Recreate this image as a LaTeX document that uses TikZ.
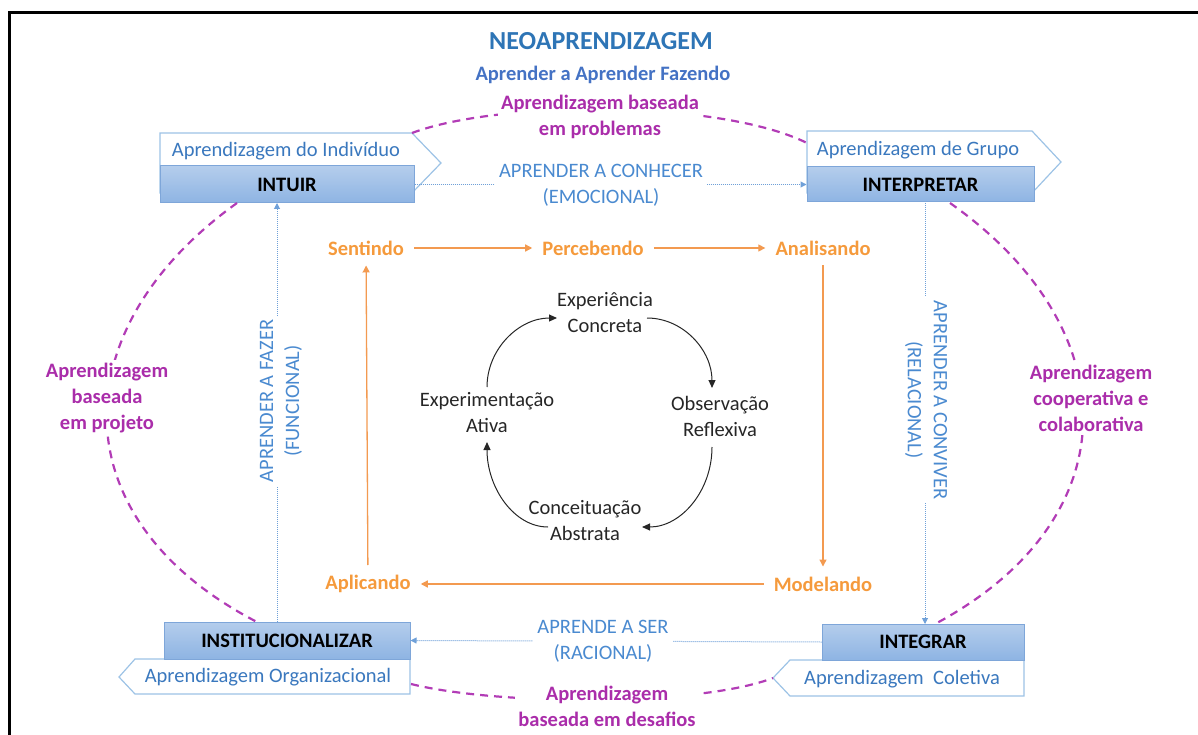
\documentclass[tikz,border=0pt]{standalone}
\usepackage{fontspec}
\setmainfont{Carlito}
\usetikzlibrary{arrows.meta,calc}
\definecolor{ttl}{HTML}{2E75B6}
\definecolor{sub}{HTML}{4472C4}
\definecolor{mag}{HTML}{AA2DAA}
\definecolor{magl}{HTML}{B23CB6}
\definecolor{org}{HTML}{F59A3C}
\definecolor{orgl}{HTML}{F39A50}
\definecolor{cat}{HTML}{4A8AD0}
\definecolor{lbltxt}{HTML}{3A78BE}
\definecolor{lblline}{HTML}{9DC3E6}
\definecolor{boxtop}{HTML}{B4CDEC}
\definecolor{boxbot}{HTML}{8EB4E3}
\definecolor{boxdraw}{HTML}{7EA6D9}
\definecolor{dotb}{HTML}{6FA0D8}
\newcommand\fsz{\fontsize{20.5}{26}\selectfont}
\tikzset{
  every node/.style={font=\fsz, inner sep=0pt, align=center},
  mainbox/.style={draw=boxdraw, line width=1pt, top color=boxtop, bottom color=boxbot, font=\fsz\bfseries, text=black},
  lblshape/.style={draw=lblline, line width=1.2pt, fill=white},
  lbl/.style={text=lbltxt},
  cattxt/.style={text=cat},
  magtxt/.style={text=mag, font=\fsz\bfseries},
  orgtxt/.style={text=org, font=\fsz\bfseries, inner sep=10pt},
  kolb/.style={text=black!85},
  magdash/.style={draw=magl, line width=2.2pt, dash pattern=on 8pt off 6pt},
  dotline/.style={draw=dotb, line width=1pt, densely dotted},
  dotarrow/.style={dotline, -{Triangle[width=6pt,length=6pt]}},
  orgarrow/.style={draw=orgl, line width=1.3pt, -{Triangle[width=7pt,length=7pt]}},
  kolbarrow/.style={draw=black!85, line width=1pt, -{Triangle[width=7pt,length=8pt]}},
}
\begin{document}
\begin{tikzpicture}[x=1pt,y=-1pt]
\useasboundingbox (0,0) rectangle (1198,735);
\draw[line width=3pt] (9,735) -- (9,13) -- (1198,13);

% titles
\node[text=ttl, font=\fontsize{26}{30}\selectfont\bfseries] (title) at (601,41) {NEOAPRENDIZAGEM};
\node[text=sub, font=\fsz\bfseries] (subtitle) at (603,75) {Aprender a Aprender Fazendo};

% label pentagons (behind boxes)
\draw[lblshape] (160,133) -- (412,133) -- (441,163) -- (412,193) -- (160,193) -- cycle;
\draw[lblshape] (807,131) -- (1032,131) -- (1061,162) -- (1032,193) -- (807,193) -- cycle;
\draw[lblshape] (410,659) -- (135,659) -- (119,677) -- (135,694) -- (410,694) -- cycle;
\draw[lblshape] (1024,660) -- (790,660) -- (773,678) -- (790,696) -- (1024,696) -- cycle;

\node[lbl] (l1) at (286,151) {Aprendizagem do Indivíduo};
\node[lbl] (l2) at (918,150) {Aprendizagem de Grupo};
\node[lbl] (l3) at (268,677) {Aprendizagem Organizacional};
\node[lbl] (l4) at (902,679) {Aprendizagem\ \ Coletiva};

% main boxes
\node[mainbox, minimum width=254pt, minimum height=37pt] (intuir) at (287,184.5) {INTUIR};
\node[mainbox, minimum width=227pt, minimum height=35pt] (interp) at (920.5,184.5) {INTERPRETAR};
\node[mainbox, minimum width=246pt, minimum height=37pt] (inst) at (287,640.5) {INSTITUCIONALIZAR};
\node[mainbox, minimum width=202pt, minimum height=36pt] (integ) at (923,642) {INTEGRAR};

% magenta dashed curves
\coordinate (tl) at (412,133);
\coordinate (tr) at (807,143);
\draw[magdash] (tl) .. controls (500,100) and (720,100) .. (tr);
\coordinate (lt) at (237,203);
\coordinate (lb) at (257,622);
\draw[magdash] (lt) .. controls (60,330) and (60,520) .. (lb);
\coordinate (rt) at (950,203);
\coordinate (rb) at (935,624);
\draw[magdash] (rt) .. controls (1130,330) and (1130,520) .. (rb);
\coordinate (bl) at (411,684);
\coordinate (br) at (773,678);
\draw[magdash] (bl) .. controls (500,706) and (700,706) .. (br);

% dotted connectors between boxes
\coordinate (vl) at (277,622);
\coordinate (vlt) at (277,203);
\draw[dotarrow] (vl) -- (vlt);
\coordinate (vr) at (925,203);
\coordinate (vrb) at (925,624);
\draw[dotarrow] (vr) -- (vrb);
\draw[dotarrow] (intuir.east) -- (interp.west);
\draw[dotarrow] (integ.west) -- (inst.east);

% magenta texts (white background hides curves)
\node[magtxt, fill=white, inner sep=3pt] (tp) at (600,117) {Aprendizagem baseada\\em problemas};
\node[magtxt, fill=white, inner sep=3pt] (lp) at (107,398) {Aprendizagem\\baseada\\em projeto};
\node[magtxt, fill=white, inner sep=3pt] (rp) at (1091,398) {Aprendizagem\\cooperativa e\\colaborativa};
\node[magtxt, fill=white, inner sep=3pt] (bp) at (607,706) {Aprendizagem\\baseada em desafios};

% category texts
\node[cattxt, fill=white, inner sep=4pt] (conhecer) at (601,185) {APRENDER A CONHECER\\(EMOCIONAL)};
\node[cattxt, fill=white, inner sep=4pt] (ser) at (603,641) {APRENDE A SER\\(RACIONAL)};
\node[cattxt, fill=white, inner sep=4pt, rotate=90] (fazer) at (281,401) {APRENDER A FAZER\\(FUNCIONAL)};
\node[cattxt, fill=white, inner sep=4pt, rotate=-90] (conviver) at (926,400) {APRENDER A CONVIVER\\(RELACIONAL)};

% orange cycle
\node[orgtxt] (sent) at (366,248) {Sentindo};
\node[orgtxt] (perc) at (593,248) {Percebendo};
\node[orgtxt] (anal) at (823,248) {Analisando};
\node[orgtxt] (mode) at (823,584) {Modelando};
\node[orgtxt] (apli) at (368,584) {Aplicando};
\draw[orgarrow] (sent) -- (perc);
\draw[orgarrow] (perc) -- (anal);
\draw[orgarrow] (anal) -- (mode);
\draw[orgarrow] (mode) -- (apli);
\draw[orgarrow] (apli) -- (sent);

% Kolb cycle
\node[kolb] (exp) at (605,313) {Experiência\\Concreta};
\node[kolb] (obs) at (720,416) {Observação\\Reflexiva};
\node[kolb] (con) at (585,521) {Conceituação\\Abstrata};
\node[kolb] (ati) at (487,413) {Experimentação\\Ativa};
\coordinate (k1) at (487,387);
\coordinate (k2) at (557,318);
\coordinate (k3) at (647,318);
\coordinate (k4) at (712,388);
\coordinate (k5) at (712,447);
\coordinate (k6) at (642,527);
\coordinate (k7) at (548,527);
\coordinate (k8) at (487,442);
\draw[kolbarrow] (k1) .. controls (487,349) and (519,318) .. (k2);
\draw[kolbarrow] (k3) .. controls (683,318) and (712,350) .. (k4);
\draw[kolbarrow] (k5) .. controls (712,491) and (681,527) .. (k6);
\draw[kolbarrow] (k7) .. controls (514,527) and (487,488) .. (k8);
\end{tikzpicture}
\end{document}
